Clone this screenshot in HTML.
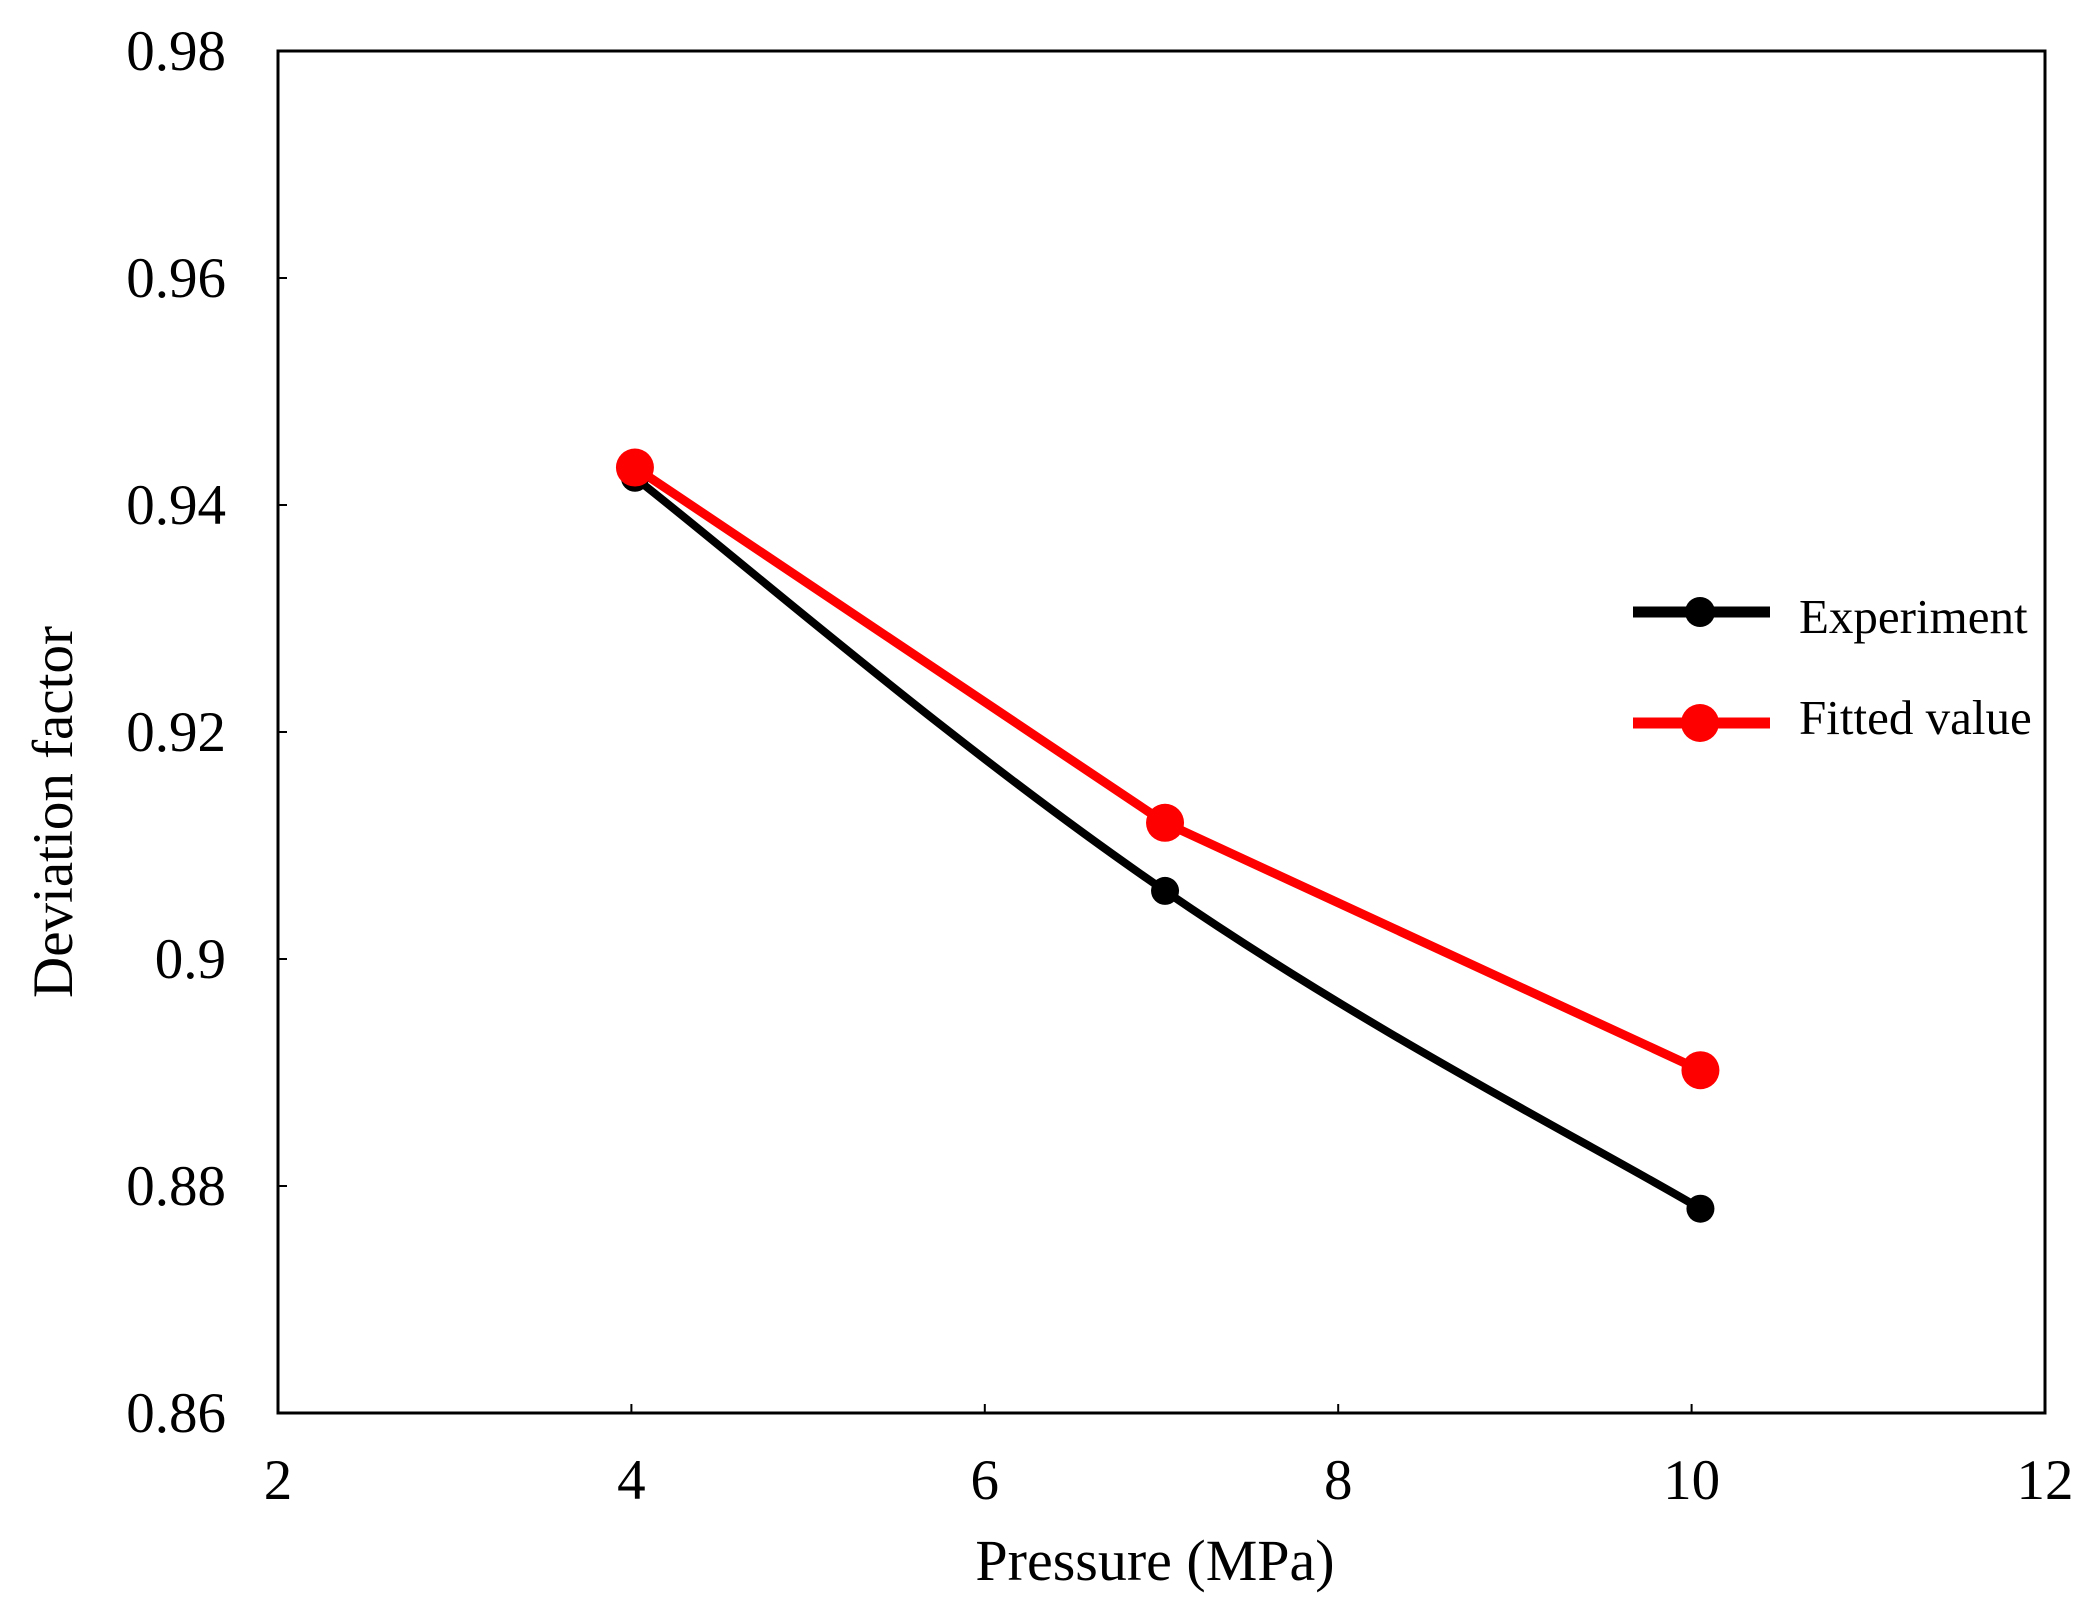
<!DOCTYPE html>
<html><head><meta charset="utf-8"><style>
html,body{margin:0;padding:0;background:#fff}
svg{display:block}
text{font-family:"Liberation Serif",serif;fill:#000}
</style></head><body>
<svg id="chart" width="2098" height="1620">
<rect x="278" y="51" width="1767" height="1362" fill="none" stroke="#000" stroke-width="3"/>
<g id="ticks"></g>
<g id="series"></g>
<text x="72" y="812" font-size="57" text-anchor="middle" transform="rotate(-90 72 812)">Deviation factor</text>
<text x="1155" y="1580" font-size="58" text-anchor="middle">Pressure (MPa)</text>
<g>
<g>
<line x1="1633" y1="612" x2="1770" y2="612" stroke="#000" stroke-width="11"/>
<circle cx="1700" cy="612" r="15" fill="#000"/>
<text x="1799" y="633" font-size="49">Experiment</text>
</g>
<g>
<line x1="1633" y1="723" x2="1770" y2="723" stroke="#f00" stroke-width="11"/>
<circle cx="1700" cy="723" r="19" fill="#f00"/>
<text x="1799" y="734" font-size="49">Fitted value</text>
</g>
</g>
</svg>
<script>
const xTicks=[2,4,6,8,10,12];
const yTicks=[0.86,0.88,0.9,0.92,0.94,0.96,0.98];
const yTickLabels=["0.86","0.88","0.9","0.92","0.94","0.96","0.98"];
const pressure=[4.02,7.02,10.05];
const experiment=[0.9424,0.906,0.878];
const fitted=[0.9433,0.912,0.8902];
const NS="http://www.w3.org/2000/svg";
const X0=278,X1=2045,Y0=1413,Y1=51;
function xs(v){return X0+(v-2)/(12-2)*(X1-X0);}
function ys(v){return Y0-(v-0.86)/(0.98-0.86)*(Y0-Y1);}
function mk(tag,attrs,parent){const e=document.createElementNS(NS,tag);for(const k in attrs)e.setAttribute(k,attrs[k]);parent.appendChild(e);return e;}
const tg=document.getElementById('ticks');
xTicks.forEach(t=>{
  const l=mk('line',{x1:xs(t),x2:xs(t),y1:Y0,y2:Y0-9,stroke:'#000','stroke-width':2},tg);
  
  
  const tx=mk('text',{x:xs(t),y:1499,'font-size':57,'text-anchor':'middle'},tg);
  tx.textContent=t;
  
  
});
yTicks.forEach((t,i)=>{
  const l=mk('line',{x1:X0,x2:X0+9,y1:ys(t),y2:ys(t),stroke:'#000','stroke-width':2},tg);
  
  
  const tx=mk('text',{x:226,y:ys(t)+19,'font-size':57,'text-anchor':'end'},tg);
  tx.textContent=yTickLabels[i];
  
  
});
const sg=document.getElementById('series');
function smoothPath(pts){
  let d='M'+pts[0][0]+','+pts[0][1];
  for(let i=0;i<pts.length-1;i++){
    const p0=pts[i-1]||pts[i],p1=pts[i],p2=pts[i+1],p3=pts[i+2]||p2;
    const t=0.2;
    const c1=[p1[0]+(p2[0]-p0[0])*t,p1[1]+(p2[1]-p0[1])*t];
    const c2=[p2[0]-(p3[0]-p1[0])*t,p2[1]-(p3[1]-p1[1])*t];
    d+=' C'+c1+' '+c2+' '+p2;
  }
  return d;
}
const ePts=pressure.map((p,i)=>[xs(p),ys(experiment[i])]);
const fPts=pressure.map((p,i)=>[xs(p),ys(fitted[i])]);
const el=mk('path',{d:smoothPath(ePts),fill:'none',stroke:'#000','stroke-width':8},sg);


const fl=mk('polyline',{points:fPts.map(p=>p.join(',')).join(' '),fill:'none',stroke:'#f00','stroke-width':9},sg);


ePts.forEach(p=>{
  const c=mk('circle',{cx:p[0],cy:p[1],r:14,fill:'#000'},sg);
  
  
});
fPts.forEach(p=>{
  const c=mk('circle',{cx:p[0],cy:p[1],r:19,fill:'#f00'},sg);
  
  
});
</script>
</body></html>
